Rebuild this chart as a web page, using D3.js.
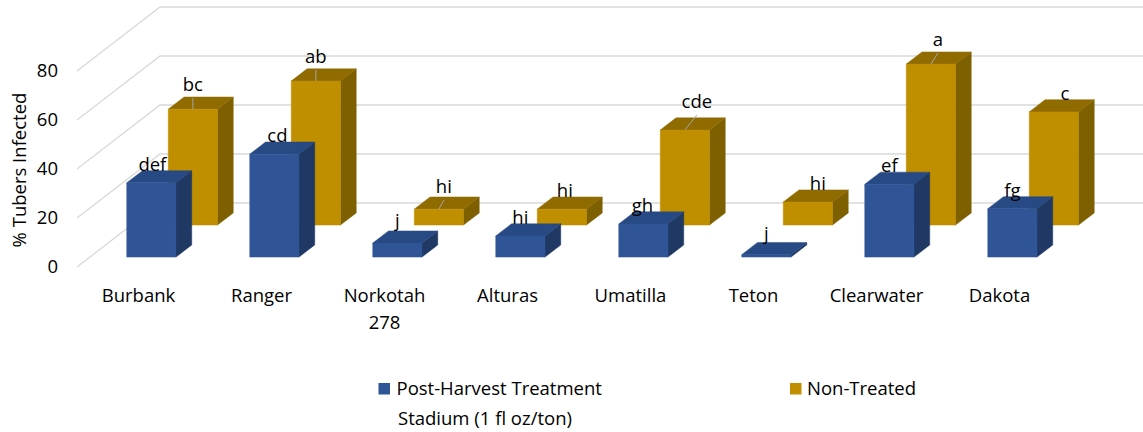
<!DOCTYPE html>
<html>
<head>
<meta charset="utf-8">
<script src="https://cdn.jsdelivr.net/npm/d3@7"></script>
<style>
  body { margin: 0; background: #fff; }
  svg text { font-family: "Open Sans", sans-serif; font-size: 18.5px; fill: #000; }
</style>
</head>
<body>
<svg id="chart" width="1143" height="432"></svg>
<script>
var categories = ["Burbank", "Ranger", "Norkotah 278", "Alturas", "Umatilla", "Teton", "Clearwater", "Dakota"];
var treated = [30.3, 42.0, 5.7, 8.6, 13.5, 1.0, 29.7, 19.7];
var nonTreated = [47.3, 58.8, 6.5, 6.5, 38.8, 9.4, 65.7, 46.2];
var treatedLetters = ["def", "cd", "j", "hi", "gh", "j", "ef", "fg"];
var nonTreatedLetters = ["bc", "ab", "hi", "hi", "cde", "hi", "a", "c"];
var yTicks = [0, 20, 40, 60, 80];
var treatedName = ["Post-Harvest Treatment", "Stadium (1 fl oz/ton)"];
var nonTreatedName = ["Non-Treated"];

// labels that were dragged by hand in the original, [dx, dy] from the default spot
var nudgeTreated = [[1, 0], [3, 0], [0, -4], [0, 0], [-1, 0], [0, -3], [0, 0], [0, 0]];
var nudgeNon = [[0, -6], [0, -6], [5, -4], [3, 0], [12, -10], [10, 0], [7, -6], [11, 0]];
var leaderNon = [true, true, true, false, true, false, true, false];

var svg = d3.select('#chart');

// front plane of the floor, and how far the back wall sits (oblique projection)
var depthX = 83,
    depthY = 64,
    barDepth = 0.19;

var x = d3.scaleBand().domain(categories).range([77, 1061]).padding(0),
    y = d3.scaleLinear().domain([0, 80]).range([267, 71]),
    barW = x.bandwidth() * 0.4;

function proj(px, v, d) {
  return [px + depthX * d, y(v) - depthY * d];
}

function pts(list) {
  return list.map(function(p) { return p.join(','); }).join(' ');
}

// gridlines: diagonal on the side wall, flat on the back wall
var grid = svg.append('g').attr('class', 'grid');
yTicks.forEach(function(t) {
  var a = proj(77, t, 0), b = proj(77, t, 1);
  grid.append('polyline')
    .attr('points', pts([a, b, [1143, b[1]]]))
    .attr('fill', 'none')
    .attr('stroke', '#d9d9d9')
    .attr('stroke-width', 1.3);
});

svg.append('g').selectAll('text')
  .data(yTicks)
  .join('text')
  .attr('x', 58)
  .attr('y', function(d) { return y(d); })
  .attr('dy', '0.35em')
  .attr('text-anchor', 'end')
  .text(function(d) { return d; });

svg.append('text')
  .attr('transform', 'translate(26,170) rotate(-90)')
  .attr('text-anchor', 'middle')
  .text('% Tubers Infected');

function bars(values, depth0, colors) {
  var g = svg.append('g');
  var data = values.map(function(v, i) {
    var x0 = x(categories[i]) + (x.bandwidth() - barW) / 2,
        x1 = x0 + barW,
        d1 = depth0 + barDepth;
    return {
      front: [proj(x0, 0, depth0), proj(x1, 0, depth0), proj(x1, v, depth0), proj(x0, v, depth0)],
      top: [proj(x0, v, depth0), proj(x1, v, depth0), proj(x1, v, d1), proj(x0, v, d1)],
      side: [proj(x1, 0, depth0), proj(x1, 0, d1), proj(x1, v, d1), proj(x1, v, depth0)]
    };
  });
  ['side', 'top', 'front'].forEach(function(face, k) {
    g.selectAll('polygon.' + face)
      .data(data)
      .join('polygon')
      .attr('class', face)
      .attr('points', function(d) { return pts(d[face]); })
      .attr('fill', colors[k])
      .attr('stroke', colors[k])
      .attr('stroke-width', 0.5);
  });
}

// back series first so the front one covers it
bars(nonTreated, 0.655, ['#7f6000', '#8f6b00', '#bf8f00']);
bars(treated, 0.155, ['#1f3864', '#284a84', '#2f5597']);

function letters(values, labels, depth0, nudge, leader) {
  var g = svg.append('g');
  values.forEach(function(v, i) {
    var cx = x(categories[i]) + x.bandwidth() / 2,
        top = proj(cx, v, depth0),
        lx = top[0] + nudge[i][0],
        ly = top[1] - 12 + nudge[i][1];
    if (leader && leader[i]) {
      g.append('line')
        .attr('x1', lx).attr('y1', ly + 7)
        .attr('x2', top[0]).attr('y2', top[1])
        .attr('stroke', '#a6a6a6')
        .attr('stroke-width', 1);
    }
    g.append('text')
      .attr('x', lx)
      .attr('y', ly)
      .attr('text-anchor', 'middle')
      .text(labels[i]);
  });
}

letters(nonTreated, nonTreatedLetters, 0.655, nudgeNon, leaderNon);
letters(treated, treatedLetters, 0.155, nudgeTreated, null);

// category names along the front edge, wrapped like excel does
var cat = svg.append('g').selectAll('text')
  .data(categories)
  .join('text')
  .attr('x', function(d) { return x(d) + x.bandwidth() / 2; })
  .attr('y', 302)
  .attr('text-anchor', 'middle');

cat.each(function(d) {
  var t = d3.select(this),
      words = d.split(' '),
      line = [],
      span = t.append('tspan').attr('x', t.attr('x'));
  words.forEach(function(w) {
    line.push(w);
    span.text(line.join(' '));
    if (span.node().getComputedTextLength() > 105 && line.length > 1) {
      line.pop();
      span.text(line.join(' '));
      line = [w];
      span = t.append('tspan').attr('x', t.attr('x')).attr('dy', 26.5).text(w);
    }
  });
});

// legend
var legend = svg.append('g');
legend.append('rect').attr('x', 378.5).attr('y', 383).attr('width', 11.5).attr('height', 11.5).attr('fill', '#2f5597');
legend.append('text').attr('x', 396.5).attr('y', 395)
  .selectAll('tspan')
  .data(treatedName)
  .join('tspan')
  .attr('x', function(d, i) { return i ? 398 : 396.5; })
  .attr('dy', function(d, i) { return i ? 30 : 0; })
  .text(function(d) { return d; });
legend.append('rect').attr('x', 790).attr('y', 383).attr('width', 11.5).attr('height', 11.5).attr('fill', '#bf8f00');
legend.append('text').attr('x', 807).attr('y', 395).text(nonTreatedName[0]);
</script>
</body>
</html>
